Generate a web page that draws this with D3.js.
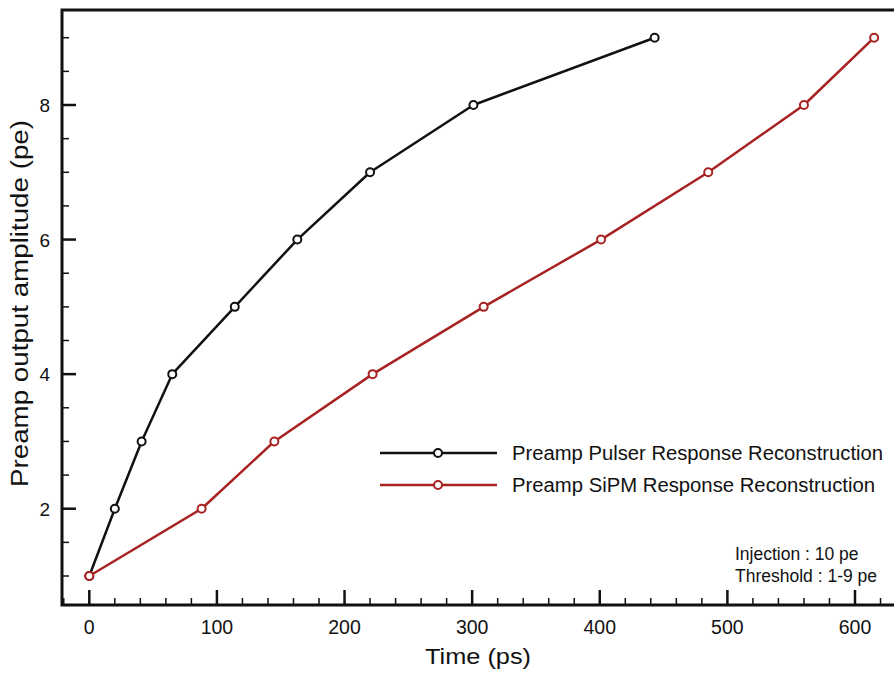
<!DOCTYPE html>
<html>
<head>
<meta charset="utf-8">
<script src="https://cdn.jsdelivr.net/npm/d3@7"></script>
<style>
  html, body { margin: 0; padding: 0; background: #fff; }
  svg { display: block; }
  text { font-family: "Liberation Sans", Arial, Helvetica, sans-serif; fill: #111; }
</style>
</head>
<body>
<svg id="chart" width="894" height="674"></svg>
<script>
// Data
const pulserTime = [0, 20, 41, 65, 114, 163, 220, 301, 443];
const pulserAmp  = [1, 2, 3, 4, 5, 6, 7, 8, 9];
const sipmTime   = [0, 88, 145, 222, 309, 401, 485, 560, 615];
const sipmAmp    = [1, 2, 3, 4, 5, 6, 7, 8, 9];
const seriesNames = ["Preamp Pulser Response Reconstruction", "Preamp SiPM Response Reconstruction"];
const seriesColors = ["#111111", "#a82222"];
const xMajorTicks = [0, 100, 200, 300, 400, 500, 600];
const yMajorTicks = [2, 4, 6, 8];
const xTitle = "Time (ps)";
const yTitle = "Preamp output amplitude (pe)";
const noteLines = ["Injection : 10 pe", "Threshold : 1-9 pe"];

const svg = d3.select("#chart");
const L = 62, T = 10, R = 900, B = 605;

const x = d3.scaleLinear().domain([0, 600]).range([89.3, 855]);
const y = d3.scaleLinear().domain([1, 8]).range([576, 105]);

// minor ticks
const xMinor = d3.range(-20, 641, 20).filter(v => v % 100 !== 0 && x(v) > L && x(v) < R);
const yMinor = d3.range(0.5, 9.6, 0.5).filter(v => v % 2 !== 0 && y(v) < B && y(v) > T);

const g = svg.append("g");

// ticks on bottom (pointing up)
g.selectAll(".xmaj").data(xMajorTicks).join("line")
  .attr("x1", d => x(d)).attr("x2", d => x(d))
  .attr("y1", B).attr("y2", B - 15)
  .attr("stroke", "#111").attr("stroke-width", 2.5);
g.selectAll(".xmin").data(xMinor).join("line")
  .attr("x1", d => x(d)).attr("x2", d => x(d))
  .attr("y1", B).attr("y2", B - 7)
  .attr("stroke", "#111").attr("stroke-width", 1.5);
// ticks on left (pointing right)
g.selectAll(".ymaj").data(yMajorTicks).join("line")
  .attr("x1", L).attr("x2", L + 14)
  .attr("y1", d => y(d)).attr("y2", d => y(d))
  .attr("stroke", "#111").attr("stroke-width", 2.5);
g.selectAll(".ymin").data(yMinor).join("line")
  .attr("x1", L).attr("x2", L + 7)
  .attr("y1", d => y(d)).attr("y2", d => y(d))
  .attr("stroke", "#111").attr("stroke-width", 1.5);

// frame
g.append("path")
  .attr("d", `M${R},${T} L${L},${T} L${L},${B} L${R},${B}`)
  .attr("fill", "none").attr("stroke", "#111").attr("stroke-width", 3);

// tick labels
g.selectAll(".xl").data(xMajorTicks).join("text")
  .attr("x", d => x(d)).attr("y", 634)
  .attr("text-anchor", "middle").attr("font-size", 19.5)
  .text(d => d);
g.selectAll(".yl").data(yMajorTicks).join("text")
  .attr("x", 50).attr("y", d => y(d) + 7)
  .attr("text-anchor", "end").attr("font-size", 19)
  .text(d => d);

// axis titles
g.append("text").attr("x", 478).attr("y", 664)
  .attr("text-anchor", "middle").attr("font-size", 22)
  .attr("textLength", 106).attr("lengthAdjust", "spacingAndGlyphs").text(xTitle);
g.append("text").attr("transform", "translate(27.5,303.5) rotate(-90)")
  .attr("text-anchor", "middle").attr("font-size", 23)
  .attr("textLength", 367).attr("lengthAdjust", "spacingAndGlyphs").text(yTitle);

// series
const series = [
  pulserTime.map((t, i) => [t, pulserAmp[i]]),
  sipmTime.map((t, i) => [t, sipmAmp[i]])
];
const line = d3.line().x(d => x(d[0])).y(d => y(d[1]));
series.forEach((pts, si) => {
  g.append("path").datum(pts).attr("d", line)
    .attr("fill", "none").attr("stroke", seriesColors[si]).attr("stroke-width", 2.5)
    .attr("stroke-linejoin", "round");
  g.selectAll(".pt" + si).data(pts).join("circle")
    .attr("cx", d => x(d[0])).attr("cy", d => y(d[1])).attr("r", 4)
    .attr("fill", "#fff").attr("stroke", seriesColors[si]).attr("stroke-width", 2);
});

// legend
const legY = [453, 485];
const legLen = [371, 363];
seriesNames.forEach((name, i) => {
  g.append("line").attr("x1", 380).attr("x2", 497).attr("y1", legY[i]).attr("y2", legY[i])
    .attr("stroke", seriesColors[i]).attr("stroke-width", 2.5);
  g.append("circle").attr("cx", 438).attr("cy", legY[i]).attr("r", 4)
    .attr("fill", "#fff").attr("stroke", seriesColors[i]).attr("stroke-width", 2);
  g.append("text").attr("x", 512).attr("y", legY[i] + 7).attr("font-size", 20)
    .attr("textLength", legLen[i]).attr("lengthAdjust", "spacingAndGlyphs").text(name);
});

// note
noteLines.forEach((s, i) => {
  g.append("text").attr("x", 735).attr("y", 560 + i * 21.5).attr("font-size", 17.5).text(s);
});
</script>
</body>
</html>
